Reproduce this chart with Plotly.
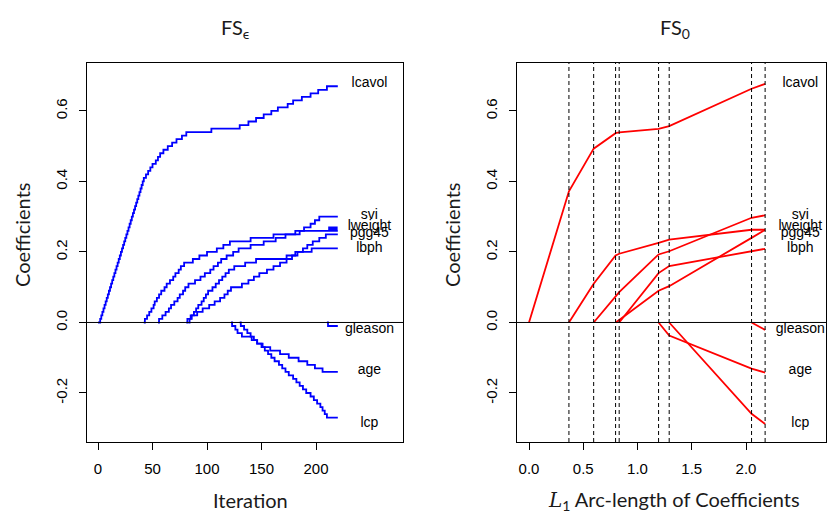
import plotly.graph_objects as go

W, H = 828, 515

# ---------------- Left panel: incremental forward stagewise (FS_eps) ----------------
# iteration at which each coefficient changes, and its value after the change
lcavol_it = [0, 2, 3, 4, 5, 6, 7, 8, 9, 10, 11, 12, 13, 14, 15, 16, 17, 18, 19, 20, 21,
             22, 23, 24, 25, 26, 27, 28, 29, 30, 31, 32, 33, 34, 35, 36, 37, 38, 39, 40, 41,
             42, 44, 46, 48, 50, 53, 55, 57, 60, 64, 68, 72, 77, 81,
             104, 130, 138, 145, 152, 159, 165, 174, 179, 187, 195, 202, 210, 220]
lcavol_val = [0.00, 0.01, 0.02, 0.03, 0.04, 0.05, 0.06, 0.07, 0.08, 0.09, 0.10, 0.11, 0.12,
              0.13, 0.14, 0.15, 0.16, 0.17, 0.18, 0.19, 0.20, 0.21, 0.22, 0.23, 0.24, 0.25,
              0.26, 0.27, 0.28, 0.29, 0.30, 0.31, 0.32, 0.33, 0.34, 0.35, 0.36, 0.37, 0.38,
              0.39, 0.40, 0.41, 0.42, 0.43, 0.44, 0.45, 0.46, 0.47, 0.48, 0.49, 0.50, 0.51,
              0.52, 0.53, 0.54, 0.55, 0.56, 0.57, 0.58, 0.59, 0.60, 0.61, 0.62, 0.63, 0.64,
              0.65, 0.66, 0.67, 0.67]

lweight_it = [42, 43, 45, 47, 49, 51, 52, 54, 56, 58, 61, 63, 66, 69, 71, 74, 76, 79,
              87, 93, 100, 109, 115, 121, 140, 161, 185,
              212, 213, 214, 215, 216, 217, 218, 219, 220]
lweight_val = [0.00, 0.01, 0.02, 0.03, 0.04, 0.05, 0.06, 0.07, 0.08, 0.09, 0.10, 0.11, 0.12,
               0.13, 0.14, 0.15, 0.16, 0.17, 0.18, 0.19, 0.20, 0.21, 0.22, 0.23, 0.24, 0.25,
               0.26, 0.27, 0.26, 0.27, 0.26, 0.27, 0.26, 0.27, 0.26, 0.26]

svi_it = [55, 56, 59, 62, 65, 67, 70, 73, 75, 78, 80, 83, 89, 94, 98, 103, 106, 110, 113,
          118, 124, 129, 140, 152, 163, 172, 181, 189, 195, 199, 203, 220]
svi_val = [0.00, 0.01, 0.02, 0.03, 0.04, 0.05, 0.06, 0.07, 0.08, 0.09, 0.10, 0.11, 0.12,
           0.13, 0.14, 0.15, 0.16, 0.17, 0.18, 0.19, 0.20, 0.21, 0.22, 0.23, 0.24, 0.25,
           0.26, 0.27, 0.28, 0.29, 0.30, 0.30]

pgg45_it = [81, 82, 86, 91, 96, 102, 107, 112, 116, 119, 122, 132, 138, 143, 148, 155, 161,
            167, 173, 178, 183, 188, 192, 197, 203, 209, 220]
pgg45_val = [0.00, 0.01, 0.02, 0.03, 0.04, 0.05, 0.06, 0.07, 0.08, 0.09, 0.10, 0.11, 0.12,
             0.13, 0.14, 0.15, 0.16, 0.17, 0.18, 0.19, 0.20, 0.21, 0.22, 0.23, 0.24, 0.25, 0.25]

lbph_it = [83, 84, 85, 88, 90, 92, 95, 97, 99, 101, 105, 108, 111, 114, 117, 120, 125,
           135, 145, 173, 181, 196, 220]
lbph_val = [0.00, 0.01, 0.02, 0.03, 0.04, 0.05, 0.06, 0.07, 0.08, 0.09, 0.10, 0.11, 0.12,
            0.13, 0.14, 0.15, 0.16, 0.17, 0.18, 0.19, 0.20, 0.21, 0.21]

age_it = [122, 123, 126, 128, 132, 141, 146, 151, 158, 167, 175, 184, 192, 199, 206, 220]
age_val = [0.00, -0.01, -0.02, -0.03, -0.04, -0.05, -0.06, -0.07, -0.08, -0.09, -0.10,
           -0.11, -0.12, -0.13, -0.14, -0.14]

lcp_it = [130, 131, 134, 137, 140, 143, 146, 150, 153, 156, 159, 162, 166, 169, 172, 175,
          179, 182, 185, 188, 191, 195, 198, 201, 204, 206, 208, 210, 220]
lcp_val = [0.00, -0.01, -0.02, -0.03, -0.04, -0.05, -0.06, -0.07, -0.08, -0.09, -0.10,
           -0.11, -0.12, -0.13, -0.14, -0.15, -0.16, -0.17, -0.18, -0.19, -0.20, -0.21,
           -0.22, -0.23, -0.24, -0.25, -0.26, -0.27, -0.27]

gleason_it = [210, 211, 220]
gleason_val = [0.00, -0.01, -0.01]

# ---------------- Right panel: FS_0 piecewise-linear path ----------------
s_knots = [0.000, 0.368, 0.596, 0.798, 0.831, 1.194, 1.292, 2.051, 2.176]
fs0_lcavol = [0.000, 0.372, 0.493, 0.537, 0.539, 0.549, 0.557, 0.663, 0.677]
fs0_lweight = [0.000, 0.000, 0.110, 0.190, 0.195, 0.226, 0.235, 0.263, 0.263]
fs0_svi = [0.000, 0.000, 0.000, 0.074, 0.086, 0.193, 0.202, 0.297, 0.304]
fs0_pgg45 = [0.000, 0.000, 0.000, 0.000, 0.007, 0.090, 0.103, 0.240, 0.263]
fs0_lbph = [0.000, 0.000, 0.000, 0.000, 0.000, 0.140, 0.160, 0.202, 0.209]
fs0_age = [0.000, 0.000, 0.000, 0.000, 0.000, 0.000, -0.037, -0.131, -0.142]
fs0_lcp = [0.000, 0.000, 0.000, 0.000, 0.000, 0.000, 0.000, -0.259, -0.288]
fs0_gleason = [0.000, 0.000, 0.000, 0.000, 0.000, 0.000, 0.000, 0.000, -0.021]

# variable labels at the right end of both panels
label_names = ["lcavol", "svi", "lweight", "pgg45", "lbph", "gleason", "age", "lcp"]
label_y = [0.677, 0.304, 0.273, 0.252, 0.211, -0.020, -0.136, -0.286]
label_x_left = 249
label_x_right = 2.50

x_ticks_left = [0, 50, 100, 150, 200]
x_ticks_right = [0.0, 0.5, 1.0, 1.5, 2.0]
x_ticktext_right = ["0.0", "0.5", "1.0", "1.5", "2.0"]
y_ticks = [-0.2, 0.0, 0.2, 0.4, 0.6]
y_ticktext = ["-0.2", "0.0", "0.2", "0.4", "0.6"]

BLUE = "#0000FF"
RED = "#FF0000"
TICKFONT = dict(family="Liberation Sans Narrow, Liberation Sans, Arial", size=15, color="black")
LABFONT = dict(family="Liberation Sans, Arial", size=14, color="black")
TITFONT = dict(family="Lato, Open Sans, DejaVu Sans", size=20, color="#1a1a1a")

fig = go.Figure()

for it, val in [(lcavol_it, lcavol_val), (lweight_it, lweight_val), (svi_it, svi_val),
                (pgg45_it, pgg45_val), (lbph_it, lbph_val), (age_it, age_val),
                (lcp_it, lcp_val), (gleason_it, gleason_val)]:
    fig.add_trace(go.Scatter(x=it, y=val, mode="lines", line=dict(color=BLUE, width=1.8, shape="hv"),
                             xaxis="x", yaxis="y", hoverinfo="skip"))

for vals in [fs0_lcavol, fs0_lweight, fs0_svi, fs0_pgg45, fs0_lbph, fs0_age, fs0_lcp, fs0_gleason]:
    first = next(i for i, v in enumerate(vals) if v != 0)
    start = max(first - 1, 0)
    fig.add_trace(go.Scatter(x=s_knots[start:], y=vals[start:], mode="lines",
                             line=dict(color=RED, width=1.8), xaxis="x2", yaxis="y2", hoverinfo="skip"))

fig.add_trace(go.Scatter(x=[label_x_left] * len(label_names), y=label_y, mode="text", text=label_names,
                         textfont=LABFONT, textposition="middle center", xaxis="x", yaxis="y",
                         cliponaxis=False, hoverinfo="skip"))
fig.add_trace(go.Scatter(x=[label_x_right] * len(label_names), y=label_y, mode="text", text=label_names,
                         textfont=LABFONT, textposition="middle center", xaxis="x2", yaxis="y2",
                         cliponaxis=False, hoverinfo="skip"))

shapes = []
for xr, yr in [("x domain", "y"), ("x2 domain", "y2")]:
    shapes.append(dict(type="line", xref=xr, yref=yr, x0=0, x1=1, y0=0, y1=0,
                       line=dict(color="black", width=1), layer="above"))
for s in s_knots[1:]:
    shapes.append(dict(type="line", xref="x2", yref="y2 domain", x0=s, x1=s, y0=0, y1=1,
                       line=dict(color="black", width=1, dash="4px,3px"), layer="above"))

ydom = [1 - 442 / H, 1 - 63 / H]
axis_common = dict(showgrid=False, zeroline=False, showline=True, linecolor="black", linewidth=1,
                   mirror=True, ticks="outside", ticklen=7, tickcolor="black", tickwidth=1,
                   tickfont=TICKFONT)

fig.update_layout(
    width=W, height=H, margin=dict(l=0, r=0, t=0, b=0),
    paper_bgcolor="white", plot_bgcolor="white", showlegend=False, hovermode=False,
    xaxis=dict(domain=[87 / W, 403 / W], range=[-10.1, 279.8], tickvals=x_ticks_left,
               anchor="y", ticklabelstandoff=6, **axis_common),
    yaxis=dict(domain=ydom, range=[-0.339, 0.736], tickvals=y_ticks, ticktext=y_ticktext,
               tickangle=-90, anchor="x", ticklabelstandoff=6, **axis_common),
    xaxis2=dict(domain=[517 / W, 826 / W], range=[-0.1106, 2.737], tickvals=x_ticks_right,
                ticktext=x_ticktext_right, anchor="y2", ticklabelstandoff=6, **axis_common),
    yaxis2=dict(domain=ydom, range=[-0.339, 0.736], tickvals=y_ticks, ticktext=y_ticktext,
                tickangle=-90, anchor="x2", ticklabelstandoff=6, **axis_common),
    shapes=shapes,
)

ann = [
    dict(text="FS<sub>ϵ</sub>", x=235 / W, y=1 - 28 / H),
    dict(text="FS<sub>0</sub>", x=675 / W, y=1 - 28 / H),
    dict(text="Iteration", x=250 / W, y=1 - 500 / H),
    dict(text="<span style='font-family:DejaVu Serif;font-style:italic'>L</span><sub>1</sub> Arc-length of Coefficients",
         x=674 / W, y=1 - 500 / H),
    dict(text="Coefficients", x=22 / W, y=1 - 235 / H, textangle=-90),
    dict(text="Coefficients", x=452 / W, y=1 - 235 / H, textangle=-90),
]
for a in ann:
    fig.add_annotation(xref="paper", yref="paper", showarrow=False, xanchor="center", yanchor="middle",
                       font=TITFONT, **a)

fig.write_html("out.html", config={"displayModeBar": False, "staticPlot": True},
               post_script="document.body.style.margin='0';document.body.style.overflow='hidden';")
